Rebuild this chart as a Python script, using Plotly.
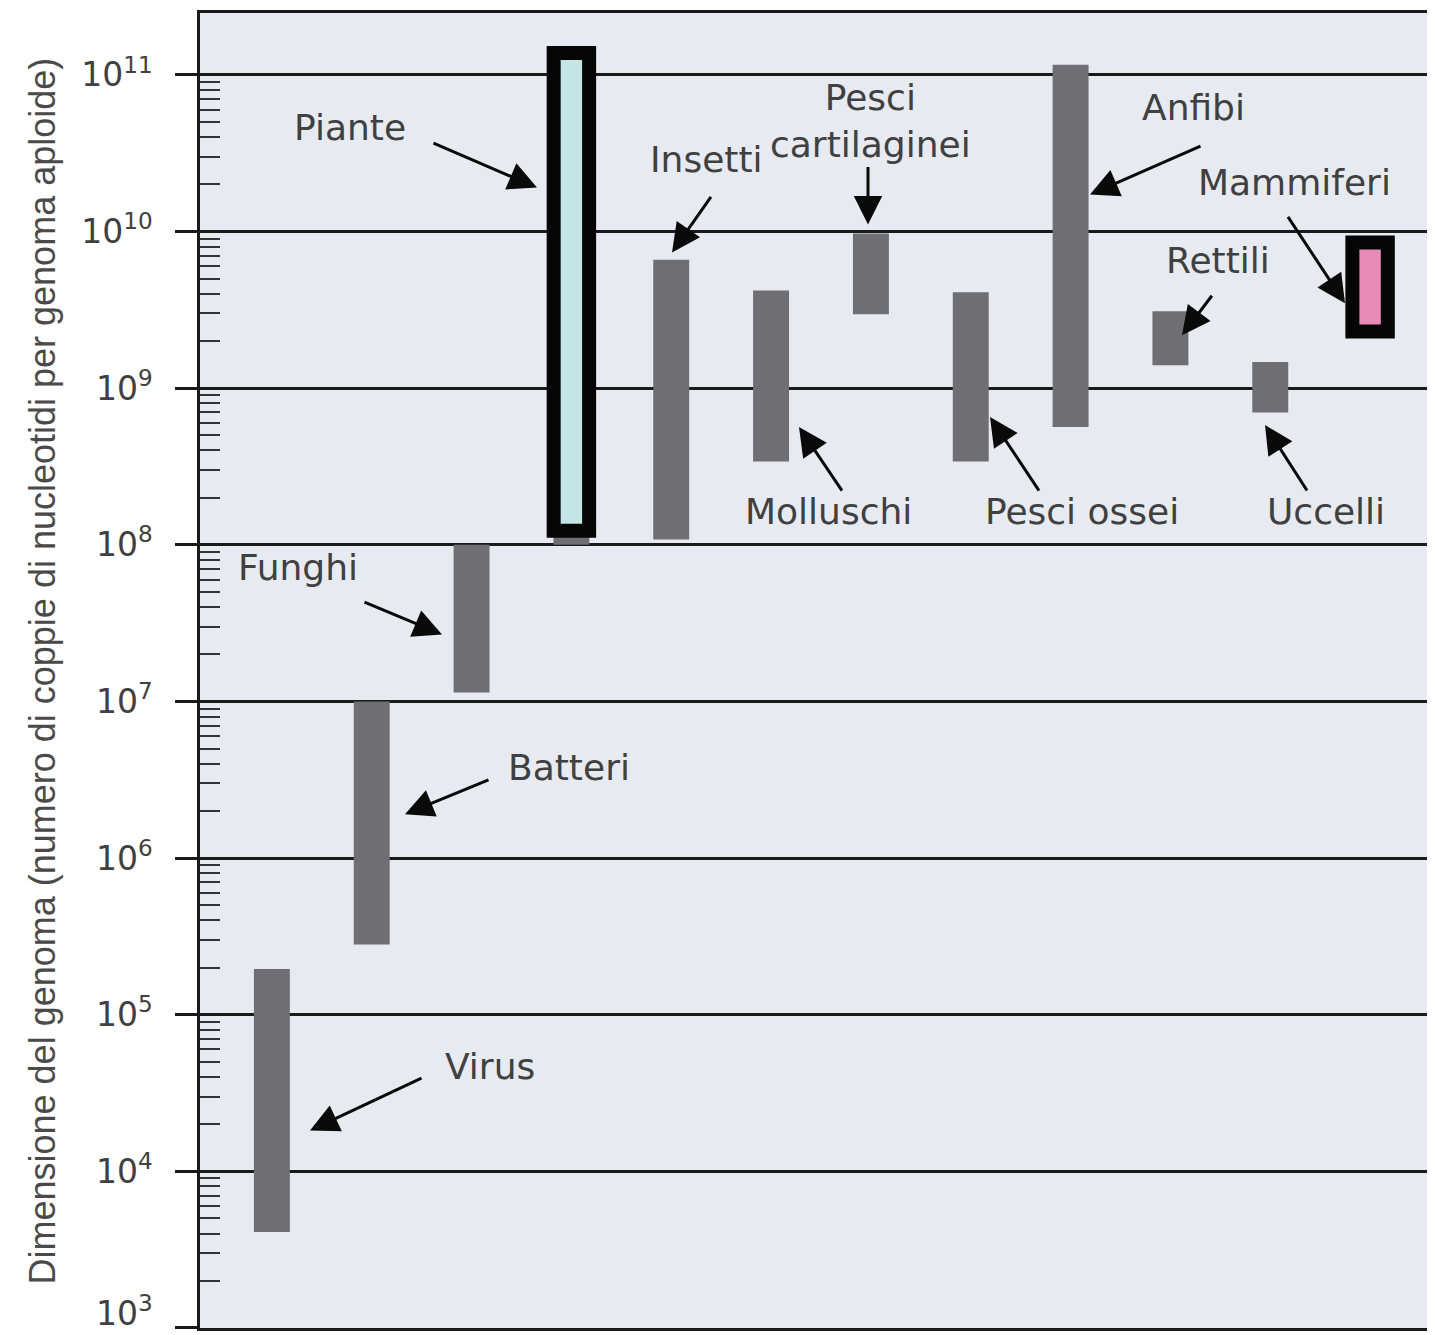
import plotly.graph_objects as go

# ---- data (genome size ranges, bp per haploid genome) ----
categories = ["Virus", "Batteri", "Funghi", "Piante", "Insetti", "Molluschi",
              "Pesci cartilaginei", "Pesci ossei", "Anfibi", "Rettili", "Uccelli", "Mammiferi"]
min_bp = [4.1e3, 2.8e5, 1.14e7, 1.0e8, 1.08e8, 3.4e8, 2.96e9, 3.4e8, 5.65e8, 1.4e9, 7.0e8, 2.3e9]
max_bp = [1.96e5, 1.0e7, 1.0e8, 1.2e8, 6.6e9, 4.2e9, 9.7e9, 4.1e9, 1.16e11, 3.1e9, 1.47e9, 8.5e9]

highlight_cats = ["Piante", "Mammiferi"]
highlight_min = [1.23e8, 2.3e9]
highlight_max = [1.38e11, 8.5e9]
highlight_colors = ["#c3e5e6", "#e78ab5"]

tick_vals = [1e3, 1e4, 1e5, 1e6, 1e7, 1e8, 1e9, 1e10, 1e11]
tick_text = ["10<sup>3</sup>", "10<sup>4</sup>", "10<sup>5</sup>", "10<sup>6</sup>", "10<sup>7</sup>",
             "10<sup>8</sup>", "10<sup>9</sup>", "10<sup>10</sup>", "10<sup>11</sup>"]

y_title = "Dimensione del genoma (numero di coppie di nucleotidi per genoma aploide)"

OFF = 8  # page body margin
W, H = 1435 - OFF, 1335 - OFF
L, R, T, B = 192, 5, 2, 7
PW, PH = W - L - R, H - T - B


def px(x):
    return (x - OFF - L) / PW


def py(y):
    return (H + OFF - B - y) / PH


fig = go.Figure()
fig.add_trace(go.Bar(
    x=categories,
    y=[b - a for a, b in zip(min_bp, max_bp)],
    base=min_bp,
    width=0.36,
    marker=dict(color="#6e6e73", line=dict(width=0)),
    hoverinfo="skip",
))
fig.add_trace(go.Bar(
    x=highlight_cats,
    y=[b - a for a, b in zip(highlight_min, highlight_max)],
    base=highlight_min,
    width=0.355,
    marker=dict(color=highlight_colors, line=dict(width=14, color="#050505")),
    hoverinfo="skip",
))

label_font = dict(family="DejaVu Sans, Liberation Sans, Arial", size=36, color="#404040")
tick_font = dict(family="DejaVu Sans, Liberation Sans, Arial", size=33, color="#404040")

labels = [
    ("Piante", 350, 125),
    ("Insetti", 706, 157),
    ("Pesci<br>cartilaginei", 870, 118),
    ("Anfibi", 1193, 105),
    ("Mammiferi", 1294, 180),
    ("Rettili", 1218, 258),
    ("Uccelli", 1326, 510),
    ("Molluschi", 828, 510),
    ("Pesci ossei", 1082, 510),
    ("Funghi", 298, 566),
    ("Batteri", 569, 766),
    ("Virus", 490, 1066),
]
arrows = [
    (432, 140, 537, 185),
    (712, 193, 672, 250),
    (868, 163, 868, 222),
    (1202, 143, 1090, 192),
    (1287, 213, 1345, 301),
    (1213, 292, 1182, 333),
    (1308, 490, 1265, 423),
    (843, 490, 799, 425),
    (1040, 490, 990, 415),
    (363, 600, 442, 633),
    (490, 778, 405, 813),
    (423, 1077, 310, 1130),
]

annotations = []
for text, x, y in labels:
    annotations.append(dict(text=text, x=px(x), y=py(y), xref="paper", yref="paper",
                            showarrow=False, xanchor="center", yanchor="middle",
                            font=label_font, align="center"))
for tx, ty, hx, hy in arrows:
    annotations.append(dict(text="", x=px(hx), y=py(hy), xref="paper", yref="paper",
                            ax=tx - hx, ay=ty - hy, axref="pixel", ayref="pixel",
                            showarrow=True, arrowhead=2, arrowsize=1.9, arrowwidth=3,
                            arrowcolor="#0a0a0a", standoff=0))

annotations.append(dict(text=y_title, x=px(42), y=py(670), xref="paper", yref="paper",
                        showarrow=False, textangle=-90, xanchor="center", yanchor="middle",
                        font=dict(family="Liberation Sans, Arial", size=36, color="#4a4a4a")))

# bottom tick label (10^3) sits at the page edge: drawn as a label that stays inside the page
annotations.append(dict(text=tick_text[0], x=px(155), y=py(1335), xref="paper", yref="paper",
                        showarrow=False, xanchor="right", yanchor="bottom",
                        font=tick_font))

minor_vals = [k * 10 ** e for e in range(3, 11) for k in range(2, 10)]

fig.update_layout(
    width=W, height=H,
    margin=dict(l=L, r=R, t=T, b=B, pad=0),
    paper_bgcolor="white",
    plot_bgcolor="#e7ebf1",
    barmode="overlay",
    showlegend=False,
    annotations=annotations,
    xaxis=dict(
        type="category",
        range=[-0.72, 11.6],
        showticklabels=False, ticks="",
        showgrid=False, zeroline=False,
        showline=True, linecolor="#1a1a1a", linewidth=2.5, mirror=True,
    ),
    yaxis=dict(
        type="log",
        range=[2.9995, 11.395],
        tickmode="array", tickvals=tick_vals, ticktext=tick_text,
        ticks="outside", ticklen=22, tickwidth=2.5, tickcolor="#1a1a1a",
        ticklabelstandoff=16,
        tickfont=tick_font,
        showgrid=True, gridcolor="#1a1a1a", gridwidth=2.5,
        zeroline=False,
        showline=True, linecolor="#1a1a1a", linewidth=2.5, mirror=True,
        minor=dict(tickmode="array", tickvals=minor_vals, ticks="inside",
                   ticklen=20, tickwidth=2, tickcolor="#333333", showgrid=False),
    ),
)

fig.write_html("out.html")
